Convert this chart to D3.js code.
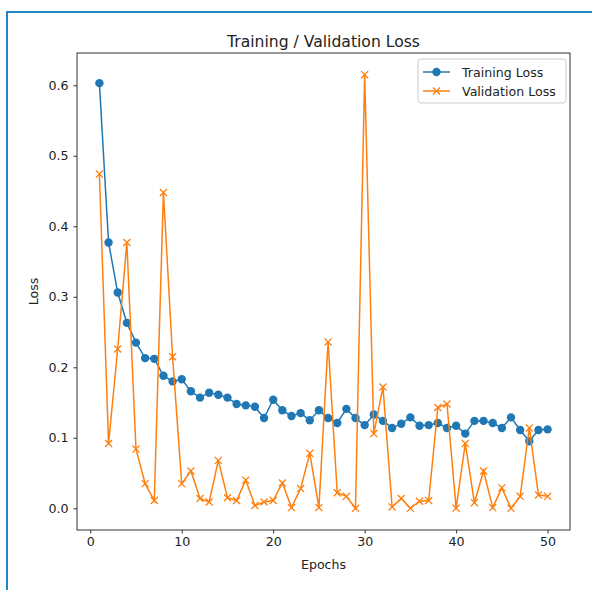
<!DOCTYPE html>
<html><head><meta charset="utf-8">
<script src="https://cdn.jsdelivr.net/npm/d3@7"></script>
<style>html,body{margin:0;padding:0;background:#fff;} svg{display:block;font-family:"DejaVu Sans",sans-serif;}</style>
</head><body>
<script>
const epochs = d3.range(1, 51);
const trainingLoss = [0.603,0.377,0.306,0.263,0.235,0.213,0.212,0.188,0.180,0.183,
  0.166,0.157,0.164,0.161,0.157,0.148,0.146,0.144,0.128,0.154,
  0.139,0.131,0.135,0.125,0.139,0.128,0.121,0.141,0.128,0.118,
  0.133,0.124,0.114,0.120,0.129,0.117,0.118,0.121,0.114,0.117,
  0.106,0.124,0.124,0.121,0.114,0.129,0.111,0.095,0.111,0.112];
const validationLoss = [0.474,0.092,0.226,0.377,0.084,0.035,0.011,0.448,0.215,0.035,
  0.053,0.014,0.009,0.068,0.015,0.011,0.040,0.004,0.009,0.011,
  0.036,0.001,0.028,0.078,0.001,0.236,0.022,0.017,0.000,0.615,
  0.106,0.172,0.002,0.014,0.000,0.010,0.011,0.143,0.148,0.000,
  0.092,0.008,0.053,0.001,0.029,0.000,0.017,0.114,0.019,0.017];
const xTicks = [0,10,20,30,40,50];
const yTicks = [0.0,0.1,0.2,0.3,0.4,0.5,0.6];
const seriesNames = ["Training Loss","Validation Loss"];
const colors = ["#1f77b4","#ff7f0e"];

const W = 592, H = 590;
const L = 77, R = 570, T = 53, B = 530;
const svg = d3.select("body").append("svg").attr("width", W).attr("height", H);

// outer blue frame
svg.append("rect").attr("x", 7).attr("y", 12).attr("width", W).attr("height", H)
  .attr("fill","none").attr("stroke","#1f88c4").attr("stroke-width",2);

const xmin = 1 - 0.05*49, xmax = 50 + 0.05*49;
const vmax = d3.max(validationLoss.concat(trainingLoss));
const x = d3.scaleLinear().domain([xmin, xmax]).range([L, R]);
const y = d3.scaleLinear().domain([-0.05*vmax, vmax*1.05]).range([B, T]);

const fs = 12.6;
const xAxis = svg.append("g").attr("transform",`translate(0,${B})`)
  .call(d3.axisBottom(x).tickValues(xTicks).tickSize(3.5).tickPadding(4).tickFormat(d3.format("d")));
const yAxis = svg.append("g").attr("transform",`translate(${L},0)`)
  .call(d3.axisLeft(y).tickValues(yTicks).tickSize(3.5).tickPadding(5).tickFormat(d3.format(".1f")));
[xAxis,yAxis].forEach(g=>{
  g.select(".domain").remove();
  g.selectAll("text").attr("font-size",fs).attr("fill","#222").attr("font-family","DejaVu Sans");
  g.selectAll("line").attr("stroke","#333");
});
svg.append("rect").attr("x",L).attr("y",T).attr("width",R-L).attr("height",B-T)
  .attr("fill","none").attr("stroke","#333").attr("stroke-width",1);

const line = d3.line().x((d,i)=>x(epochs[i])).y(d=>y(d));
// training
svg.append("path").datum(trainingLoss).attr("d",line).attr("fill","none")
  .attr("stroke",colors[0]).attr("stroke-width",1.5);
svg.append("g").selectAll("circle").data(trainingLoss).join("circle")
  .attr("cx",(d,i)=>x(epochs[i])).attr("cy",d=>y(d)).attr("r",4.2).attr("fill",colors[0]);
// validation
svg.append("path").datum(validationLoss).attr("d",line).attr("fill","none")
  .attr("stroke",colors[1]).attr("stroke-width",1.5);
const xSym = d3.symbol().type(d3.symbolTimes).size(34);
svg.append("g").selectAll("path").data(validationLoss).join("path")
  .attr("d", xSym)
  .attr("transform",(d,i)=>`translate(${x(epochs[i])},${y(d)})`)
  .attr("fill","none").attr("stroke",colors[1]).attr("stroke-width",1.3);

// title & labels
svg.append("text").attr("x",(L+R)/2).attr("y",46.5).attr("text-anchor","middle")
  .attr("font-size",15.6).attr("fill","#222").text("Training / Validation Loss");
svg.append("text").attr("x",(L+R)/2).attr("y",569).attr("text-anchor","middle")
  .attr("font-size",fs).attr("fill","#222").text("Epochs");
svg.append("text").attr("transform",`translate(38,${(T+B)/2}) rotate(-90)`).attr("text-anchor","middle")
  .attr("font-size",fs).attr("fill","#222").text("Loss");

// legend
const lg = svg.append("g");
lg.append("rect").attr("x",418).attr("y",59).attr("width",148).attr("height",44).attr("rx",3)
  .attr("fill","#fff").attr("fill-opacity",0.8).attr("stroke","#ccc");
seriesNames.forEach((n,i)=>{
  const yy = 72 + i*19;
  lg.append("line").attr("x1",423).attr("x2",450).attr("y1",yy).attr("y2",yy)
    .attr("stroke",colors[i]).attr("stroke-width",1.5);
  if(i===0) lg.append("circle").attr("cx",436.5).attr("cy",yy).attr("r",4.2).attr("fill",colors[0]);
  else lg.append("path").attr("d",xSym())
    .attr("transform",`translate(436.5,${yy})`).attr("fill","none").attr("stroke",colors[1]).attr("stroke-width",1.3);
  lg.append("text").attr("x",462).attr("y",yy+4.5).attr("font-size",fs).attr("fill","#222").text(n);
});
</script>
</body></html>
